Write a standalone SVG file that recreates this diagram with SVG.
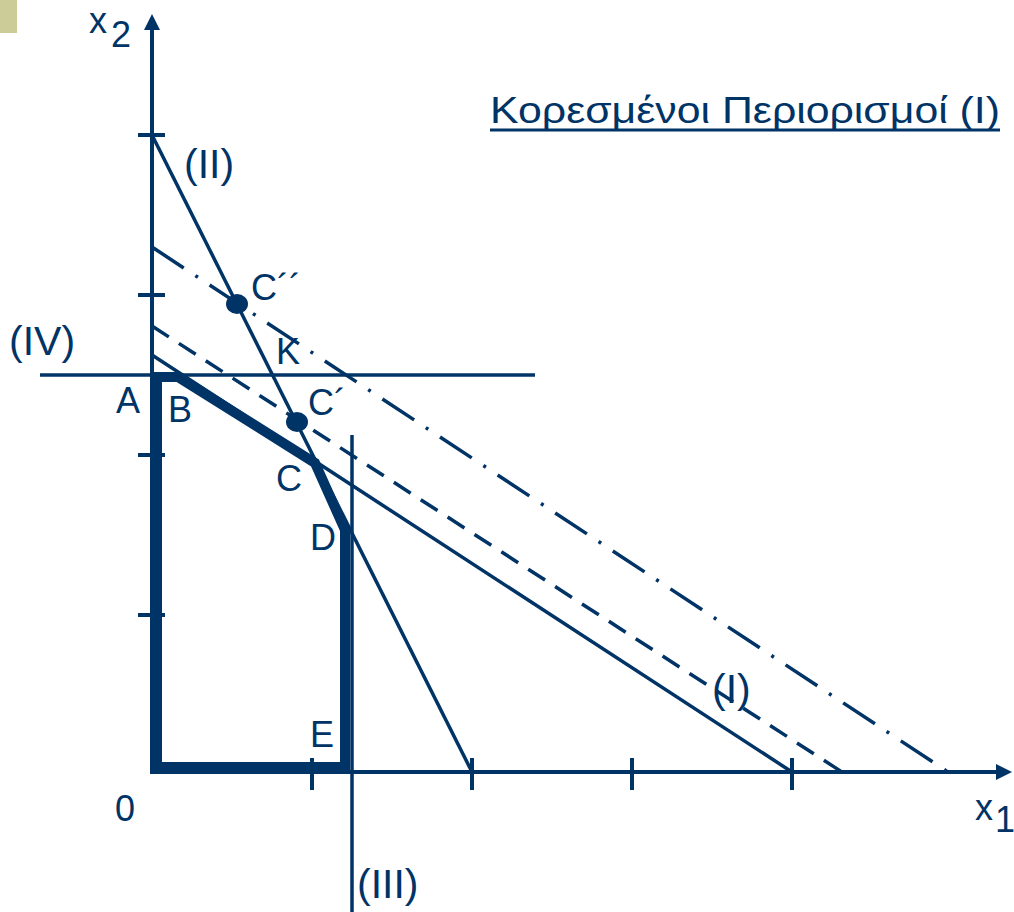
<svg xmlns="http://www.w3.org/2000/svg" width="1014" height="912" viewBox="0 0 1014 912">
<style>
.ln{stroke:#003366;fill:none;stroke-width:3.5}
.ax{stroke:#003366;fill:none;stroke-width:4}
.tk{stroke:#003366;stroke-width:4}
.thick{stroke:#003366;fill:none;stroke-width:10;stroke-linejoin:miter}
.lb{font-family:"Liberation Sans",Arial,sans-serif;font-size:36px;fill:#003366}
.pl{font-size:41px}
.pt{fill:#003366}
</style>
<defs>
<marker id="arr" viewBox="0 0 16 16" refX="0" refY="8" markerWidth="16" markerHeight="16" markerUnits="userSpaceOnUse" orient="auto">
<path d="M0,0 L16,8 L0,16 Z" fill="#003366"/>
</marker>
</defs>
<rect x="0" y="0" width="17" height="33" fill="#CCCC99"/>
<g id="axes">
<line class="ax" x1="152" y1="774" x2="152" y2="30" marker-end="url(#arr)"/>
<line class="ax" x1="150" y1="772" x2="996" y2="772" marker-end="url(#arr)"/>
<line class="tk" x1="138" y1="135" x2="165" y2="135"/>
<line class="tk" x1="138" y1="295" x2="165" y2="295"/>
<line class="tk" x1="138" y1="455" x2="165" y2="455"/>
<line class="tk" x1="138" y1="615" x2="165" y2="615"/>
<line class="tk" x1="312" y1="758" x2="312" y2="790"/>
<line class="tk" x1="472" y1="758" x2="472" y2="790"/>
<line class="tk" x1="632" y1="758" x2="632" y2="790"/>
<line class="tk" x1="792" y1="758" x2="792" y2="790"/>
</g>
<g id="connectors">
<line id="line-II" class="ln" x1="152" y1="135" x2="472" y2="772"/>
<line id="line-I" class="ln" x1="152" y1="355" x2="792" y2="772"/>
<line id="line-dashed" class="ln" x1="152" y1="326" x2="842" y2="772" stroke-dasharray="20 12"/>
<line id="line-dashdot" class="ln" x1="152" y1="247" x2="948" y2="772" stroke-dasharray="38 14 3 14"/>
<line id="line-IV" class="ln" x1="40" y1="375" x2="535" y2="375"/>
<line id="line-III" class="ln" x1="352" y1="435" x2="352" y2="912"/>
<path id="feasible" class="thick" d="M157,377 L178,377 L315,463 L345,530 L345,767 L157,767 Z"/>
</g>
<g id="point-C2"><ellipse class="pt" cx="237" cy="304" rx="11" ry="10"/><text class="lb" x="251" y="300">C´´</text></g>
<g id="point-C1"><ellipse class="pt" cx="297" cy="422" rx="11" ry="10"/><text class="lb" x="308" y="415">C´</text></g>
<g id="label-x2"><text class="lb" x="89" y="33" font-size="44">x</text><text class="lb" x="111" y="47" font-size="26">2</text></g>
<g id="label-x1"><text class="lb" x="975" y="820" font-size="44">x</text><text class="lb" x="995" y="832" font-size="26">1</text></g>
<g id="label-0"><text class="lb" x="115" y="821">0</text></g>
<g id="label-II"><text class="lb pl" x="184" y="178">(II)</text></g>
<g id="label-IV"><text class="lb pl" x="9" y="355">(IV)</text></g>
<g id="label-K"><text class="lb" x="276" y="364" font-size="34">K</text></g>
<g id="label-A"><text class="lb" x="116" y="413" font-size="34">A</text></g>
<g id="label-B"><text class="lb" x="168" y="422" font-size="34">B</text></g>
<g id="label-C"><text class="lb" x="276" y="491" font-size="34">C</text></g>
<g id="label-D"><text class="lb" x="310" y="550" font-size="34">D</text></g>
<g id="label-E"><text class="lb" x="310" y="747" font-size="34">E</text></g>
<g id="label-I"><text class="lb pl" x="712" y="703">(I)</text></g>
<g id="label-III"><text class="lb pl" x="357" y="898">(III)</text></g>
<g id="title"><text class="lb" x="490" y="123" font-size="39" textLength="510" lengthAdjust="spacingAndGlyphs">Κορεσμένοι Περιορισμοί (Ι)</text><line x1="490" y1="130" x2="1000" y2="130" stroke="#003366" stroke-width="3"/></g>
</svg>
